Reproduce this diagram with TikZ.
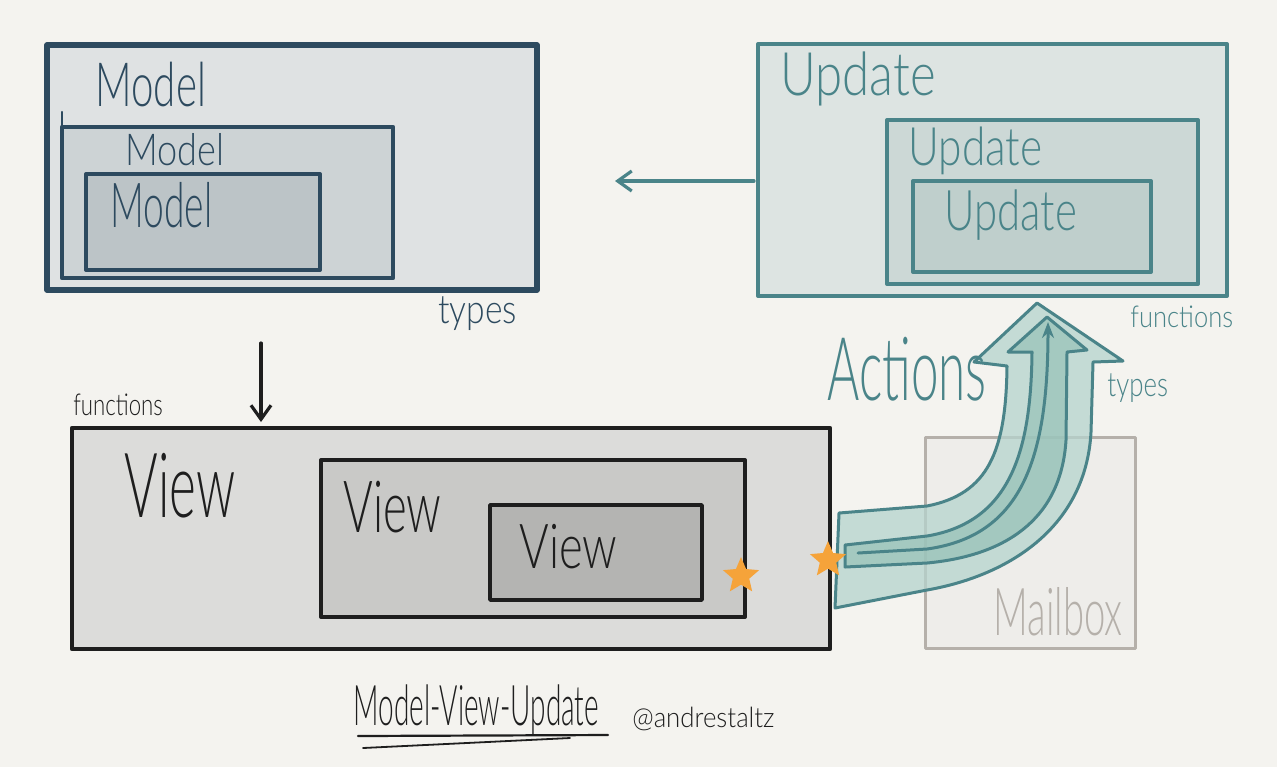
\documentclass[tikz,border=0pt]{standalone}
\usepackage{fontspec}
\usepackage{graphicx}
\setmainfont{Lato}[UprightFont=* Light]
\usetikzlibrary{arrows.meta,shapes.geometric}

\definecolor{paper}{HTML}{F4F3EF}
\definecolor{navy}{HTML}{2D4A5F}
\definecolor{tealink}{HTML}{4A8489}
\definecolor{inkblack}{HTML}{1E1E1E}
\definecolor{modelA}{HTML}{DFE2E3}
\definecolor{modelB}{HTML}{CDD3D5}
\definecolor{modelC}{HTML}{BCC4C7}
\definecolor{updA}{HTML}{DDE4E2}
\definecolor{updB}{HTML}{CCD8D6}
\definecolor{updC}{HTML}{BFCFCC}
\definecolor{viewA}{HTML}{DCDCDA}
\definecolor{viewB}{HTML}{C9C9C7}
\definecolor{viewC}{HTML}{B4B4B2}
\definecolor{mailline}{HTML}{B5B0AA}
\definecolor{mailfill}{HTML}{EEEDEA}
\definecolor{arrowA}{HTML}{B5D4CD}
\definecolor{arrowB}{HTML}{8FBDB2}
\definecolor{starc}{HTML}{F5A33A}

\newcommand{\hw}[3]{\scalebox{#1}[1]{\fontsize{#2}{#2}\selectfont #3}}

\begin{document}
\begin{tikzpicture}[x=0.5pt, y=-0.5pt, line join=round, line cap=round]

\fill[paper] (0,0) rectangle (1277,767);

\def \b {47}
\def \c {45}
\def \w {490}
\def \h {245}
\draw[fill=modelA, draw=navy, line width=2.6pt] (\b,\c)--(\b+\w,\c)--(\b+\w,\c+\h)--(\b,\c+\h)--cycle;

\def \b {62}
\def \c {127}
\def \w {331}
\def \h {151}
\draw[fill=modelB, draw=navy, line width=2.2pt] (\b,\c)--(\b+\w,\c)--(\b+\w,\c+\h)--(\b,\c+\h)--cycle;
\draw[navy, line width=1.2pt] (\b,\c)--(\b,112);

\def \b {86}
\def \c {174}
\def \w {234}
\def \h {96}
\draw[fill=modelC, draw=navy, line width=2pt] (\b,\c)--(\b+\w,\c)--(\b+\w,\c+\h)--(\b,\c+\h)--cycle;

\def \b {758}
\def \c {44}
\def \w {469}
\def \h {252}
\draw[fill=updA, draw=tealink, line width=2pt] (\b,\c)--(\b+\w,\c)--(\b+\w,\c+\h)--(\b,\c+\h)--cycle;

\def \b {887}
\def \c {120}
\def \w {311}
\def \h {164}
\draw[fill=updB, draw=tealink, line width=2pt] (\b,\c)--(\b+\w,\c)--(\b+\w,\c+\h)--(\b,\c+\h)--cycle;

\def \b {913}
\def \c {181}
\def \w {238}
\def \h {91}
\draw[fill=updC, draw=tealink, line width=2pt] (\b,\c)--(\b+\w,\c)--(\b+\w,\c+\h)--(\b,\c+\h)--cycle;

\def \b {72}
\def \c {428}
\def \w {758}
\def \h {221}
\draw[fill=viewA, draw=inkblack, line width=2.2pt] (\b,\c)--(\b+\w,\c)--(\b+\w,\c+\h)--(\b,\c+\h)--cycle;

\def \b {321}
\def \c {460}
\def \w {424}
\def \h {157}
\draw[fill=viewB, draw=inkblack, line width=2pt] (\b,\c)--(\b+\w,\c)--(\b+\w,\c+\h)--(\b,\c+\h)--cycle;

\def \b {490}
\def \c {505}
\def \w {212}
\def \h {95}
\draw[fill=viewC, draw=inkblack, line width=1.8pt] (\b,\c)--(\b+\w,\c)--(\b+\w,\c+\h)--(\b,\c+\h)--cycle;

\def \b {925}
\def \c {437}
\def \w {210}
\def \h {211}
\draw[fill=mailfill, draw=mailline, line width=1.5pt] (\b,\c)--(\b+\w,\c)--(\b+\w,\c+\h)--(\b,\c+\h)--cycle;

\draw[draw=tealink, fill=arrowA, fill opacity=0.75, line width=1.5pt]
  (835,608) -- (839,513) -- (927,506) .. controls (988,494) and (1006,452) .. (1007,366)
  -- (974,362) -- (1037,303) -- (1123,361) -- (1093,362) -- (1091,432)
  .. controls (1086,525) and (1012,575) .. (927,590) -- cycle;
\draw[draw=tealink, fill=arrowB, fill opacity=0.6, line width=1.5pt]
  (845,567) -- (845,545) -- (927,536) .. controls (1010,522) and (1031,452) .. (1032,352)
  -- (1008,352) -- (1047,317) -- (1087,350) -- (1067,352) -- (1066,440)
  .. controls (1061,522) and (1002,556) .. (927,563) -- cycle;
\draw[tealink, line width=1.5pt, -{Stealth[length=8pt,width=6pt]}]
  (858,553) -- (927,549) .. controls (1020,536) and (1048,462) .. (1048,322);

\node[star, star points=5, star point ratio=2.2, fill=starc, minimum size=19pt, inner sep=0pt] (starA) at (741,576) {};
\node[star, star points=5, star point ratio=2.2, fill=starc, minimum size=19pt, inner sep=0pt] (starB) at (828,560) {};

\coordinate (updW) at (754,181);
\coordinate (modelE) at (615,181);
\draw[tealink, line width=1.6pt, -{Straight Barb[length=7pt,width=10pt]}] (updW) -- (modelE);

\coordinate (modelS) at (261,343);
\coordinate (viewN) at (261,422);
\draw[inkblack, line width=1.6pt, -{Straight Barb[length=7pt,width=10pt]}] (modelS) -- (viewN);

\node[anchor=base west, inner sep=0pt, text=navy] (modelT1) at (95,106) {\hw{0.66}{30.5}{Model}};
\node[anchor=base west, inner sep=0pt, text=navy] (modelT2) at (125,165) {\hw{0.82}{22}{Model}};
\node[anchor=base west, inner sep=0pt, text=navy] (modelT3) at (110,227) {\hw{0.6}{31}{Model}};
\node[anchor=base west, inner sep=0pt, text=navy] (modelTy) at (438,323) {\hw{0.84}{20}{types}};

\node[anchor=base west, inner sep=0pt, text=tealink] (updT1) at (780,95) {\hw{0.82}{30}{Update}};
\node[anchor=base west, inner sep=0pt, text=tealink] (updT2) at (908,165) {\hw{0.8}{26.5}{Update}};
\node[anchor=base west, inner sep=0pt, text=tealink] (updT3) at (944,230) {\hw{0.75}{28}{Update}};
\node[anchor=base west, inner sep=0pt, text=tealink] (updFn) at (1130,327) {\hw{0.85}{15}{functions}};

\node[anchor=base west, inner sep=0pt, text=inkblack] (viewT1) at (124,517) {\hw{0.57}{45}{View}};
\node[anchor=base west, inner sep=0pt, text=inkblack] (viewT2) at (343,532) {\hw{0.63}{36}{View}};
\node[anchor=base west, inner sep=0pt, text=inkblack] (viewT3) at (519,568) {\hw{0.73}{31}{View}};
\node[anchor=base west, inner sep=0pt, text=inkblack] (viewFn) at (73,415) {\hw{0.74}{15}{functions}};

\node[anchor=base west, inner sep=0pt, text=tealink] (actT) at (827,400) {\hw{0.56}{44}{Actions}};
\node[anchor=base west, inner sep=0pt, text=tealink] (actTy) at (1107,396) {\hw{0.76}{17}{types}};
\node[anchor=base west, inner sep=0pt, text=mailline] (mailT) at (993,635) {\hw{0.58}{33}{Mailbox}};

\node[anchor=base west, inner sep=0pt, text=inkblack] (titleT) at (353,725) {\hw{0.5}{28}{Model-View-Update}};
\node[anchor=base west, inner sep=0pt, text=inkblack] (authT) at (632,727) {\hw{0.92}{14}{@andrestaltz}};
\draw[inkblack, line width=1.1pt] (358,736) -- (608,735);
\draw[inkblack, line width=0.9pt] (363,748) -- (570,738);

\end{tikzpicture}
\end{document}
